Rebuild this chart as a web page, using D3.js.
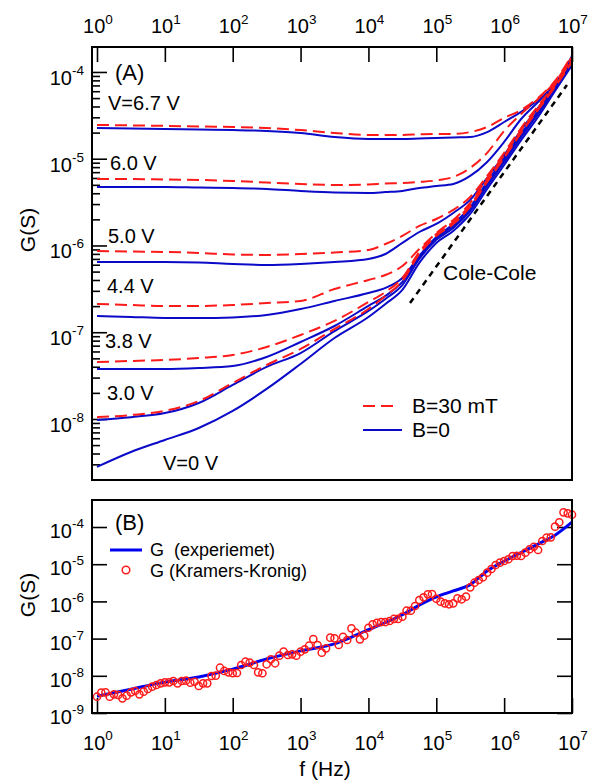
<!DOCTYPE html>
<html>
<head>
<meta charset="utf-8">
<script src="https://cdn.jsdelivr.net/npm/d3@7"></script>
<style>
body { margin: 0; background: #fff; }
text { font-family: "Liberation Sans", Arial, Helvetica, sans-serif; fill: #000; }
</style>
</head>
<body>
<svg id="chart" width="600" height="782"></svg>
<script>
// ---- data, panel A : G(f) for each bias, B=0 (solid) and B=30 mT (dashed)
var fA = [1, 3.16, 10, 31.6, 100, 316, 1e3, 3.16e3, 1e4, 1.78e4, 3.16e4, 5.62e4,
  1e5, 1.78e5, 3.16e5, 5.62e5, 1e6, 1.78e6, 3.16e6, 5.62e6, 1e7];

var g0_67 = [2.26e-5,2.23e-5,2.2e-5,2.17e-5,2.14e-5,2.09e-5,1.98e-5,1.78e-5,1.69e-5,1.69e-5,1.69e-5,1.71e-5,1.73e-5,1.76e-5,1.78e-5,2.03e-5,2.65e-5,3.46e-5,4.76e-5,7.08e-5,1.53e-4];
var g30_67 = [2.45e-5,2.42e-5,2.39e-5,2.35e-5,2.32e-5,2.26e-5,2.14e-5,1.98e-5,1.88e-5,1.88e-5,1.88e-5,1.91e-5,1.93e-5,1.93e-5,2.03e-5,2.32e-5,2.95e-5,3.65e-5,5.02e-5,7.88e-5,1.57e-4];
var g0_60 = [4.73e-6,4.73e-6,4.73e-6,4.66e-6,4.6e-6,4.48e-6,4.25e-6,4.08e-6,4.03e-6,4.13e-6,4.25e-6,4.6e-6,4.85e-6,5.12e-6,6.33e-6,9.17e-6,1.56e-5,2.87e-5,4.51e-5,7.27e-5,1.37e-4];
var g30_60 = [5.84e-6,5.84e-6,5.76e-6,5.69e-6,5.54e-6,5.32e-6,5.12e-6,4.98e-6,5.05e-6,5.19e-6,5.25e-6,5.4e-6,5.62e-6,6.16e-6,7.83e-6,1.17e-5,2.09e-5,3.28e-5,4.88e-5,7.67e-5,1.49e-4];
var g0_50 = [6.45e-7,6.45e-7,6.45e-7,6.37e-7,6.12e-7,5.96e-7,6.12e-7,6.45e-7,6.99e-7,7.98e-7,1.07e-6,1.43e-6,1.77e-6,2.37e-6,3.35e-6,6e-6,1.1e-5,2.14e-5,3.85e-5,6.9e-5,1.37e-4];
var g30_50 = [8.64e-7,8.53e-7,8.42e-7,8.2e-7,7.88e-7,7.78e-7,7.98e-7,8.31e-7,8.87e-7,1.04e-6,1.29e-6,1.68e-6,2.02e-6,2.57e-6,3.62e-6,6.33e-6,1.17e-5,2.26e-5,4.06e-5,7.27e-5,1.45e-4];
var g0_44 = [1.54e-7,1.5e-7,1.46e-7,1.46e-7,1.48e-7,1.58e-7,1.85e-7,2.29e-7,2.83e-7,3.24e-7,4.22e-7,7.57e-7,1.25e-6,1.77e-6,2.78e-6,5.4e-6,1.02e-5,1.93e-5,3.55e-5,6.72e-5,1.3e-4];
var g30_44 = [2.12e-7,2.06e-7,2.01e-7,2.01e-7,2.06e-7,2.17e-7,2.29e-7,3.15e-7,4e-7,4.57e-7,5.8e-7,9.11e-7,1.39e-6,1.97e-6,3.09e-6,6e-6,1.1e-5,2.14e-5,3.85e-5,7.08e-5,1.37e-4];
var g0_38 = [3.77e-8,3.77e-8,3.77e-8,3.87e-8,4.08e-8,5.19e-8,7.72e-8,1.18e-7,2.01e-7,2.62e-7,3.8e-7,7.37e-7,1.22e-6,1.68e-6,2.63e-6,5.12e-6,9.67e-6,1.88e-5,3.46e-5,6.54e-5,1.27e-4];
var g30_38 = [4.54e-8,4.66e-8,4.79e-8,5.05e-8,5.47e-8,6.76e-8,9.3e-8,1.35e-7,2.23e-7,2.91e-7,4.22e-7,8.42e-7,1.36e-6,1.87e-6,2.93e-6,5.69e-6,1.05e-5,2.03e-5,3.75e-5,6.9e-5,1.34e-4];
var g0_30 = [9.74e-9,1.05e-8,1.17e-8,1.53e-8,2.47e-8,3.98e-8,5.76e-8,1.03e-7,1.76e-7,2.42e-7,3.5e-7,6.99e-7,1.16e-6,1.59e-6,2.5e-6,4.85e-6,9.17e-6,1.78e-5,3.28e-5,6.37e-5,1.24e-4];
var g30_30 = [1.05e-8,1.11e-8,1.24e-8,1.61e-8,2.6e-8,4.19e-8,6.41e-8,1.09e-7,1.85e-7,2.62e-7,3.9e-7,7.98e-7,1.29e-6,1.77e-6,2.78e-6,5.4e-6,1.02e-5,1.98e-5,3.65e-5,6.72e-5,1.3e-4];
var g0_00 = [2.8e-9,4.16e-9,5.73e-9,7.88e-9,1.24e-8,2.22e-8,4.31e-8,8.58e-8,1.5e-7,2.12e-7,3.07e-7,6.29e-7,1.07e-6,1.47e-6,2.31e-6,4.48e-6,8.47e-6,1.64e-5,3.03e-5,6.04e-5,1.2e-4];

var curvesB0 = [g0_67, g0_60, g0_50, g0_44, g0_38, g0_30, g0_00];
var curvesB30 = [g30_67, g30_60, g30_50, g30_44, g30_38, g30_30];

var voltLabels = ["V=6.7 V", "6.0 V", "5.0 V", "4.4 V", "3.8 V", "3.0 V", "V=0 V"];

// Cole-Cole guide line
var coleF = [4.1e4, 8.43e6];
var coleG = [2.17e-7, 7.08e-5];

// ---- data, panel B
var expF = [1, 3.16, 10, 31.6, 100, 316, 1e3, 3.16e3, 1e4, 3.16e4, 5.62e4, 1e5,
  1.78e5, 3.16e5, 5.62e5, 1e6, 3.16e6, 5.62e6, 1e7];
var expG = [2.82e-9, 4.37e-9, 6.76e-9, 9.33e-9, 1.51e-8, 2.82e-8, 4.68e-8, 7.2e-8, 1.74e-7,
  4.37e-7, 7.94e-7, 1.32e-6, 1.91e-6, 2.82e-6, 6.61e-6, 1.2e-5, 3.47e-5, 6.03e-5, 1.35e-4];

// Kramers-Kronig points, sweep of 16 points per decade from 1 Hz
var kkG = [2.74e-9,3.52e-9,3.6e-9,2.74e-9,3.18e-9,3.05e-9,2.48e-9,2.92e-9,3.6e-9,3.9e-9,
  3.18e-9,3.74e-9,4.42e-9,5.09e-9,5.66e-9,6.28e-9,6.68e-9,6.68e-9,7.24e-9,6.28e-9,
  7.24e-9,7.38e-9,6.52e-9,6.93e-9,5.32e-9,6.28e-9,6.28e-9,9.89e-9,1.01e-8,1.65e-8,
  1.35e-8,1.24e-8,1.17e-8,1.19e-8,1.95e-8,2.39e-8,2.25e-8,1.95e-8,1.24e-8,1.17e-8,
  2.04e-8,2.78e-8,2.17e-8,3.47e-8,4.45e-8,3.62e-8,3.78e-8,3.47e-8,4.45e-8,5.15e-8,
  6.44e-8,9.75e-8,6.73e-8,4.18e-8,5.48e-8,1.06e-7,1.02e-7,6.73e-8,1.12e-7,9.16e-8,
  1.89e-7,1.44e-7,9.57e-8,1.2e-7,1.96e-7,2.42e-7,2.67e-7,2.79e-7,2.79e-7,2.97e-7,
  3.37e-7,3.37e-7,3.88e-7,5.62e-7,5.62e-7,7.52e-7,1.09e-6,1.29e-6,1.55e-6,1.58e-6,
  1.18e-6,9.82e-7,8.89e-7,8.36e-7,8.89e-7,1.21e-6,1.14e-6,1.34e-6,2.39e-6,3.18e-6,
  3.76e-6,4.45e-6,5.92e-6,7.43e-6,9.51e-6,1.1e-5,1.22e-5,1.36e-5,1.66e-5,1.69e-5,
  1.66e-5,2.04e-5,2.52e-5,2.95e-5,2.41e-5,4.21e-5,5.15e-5,5.28e-5,1.02e-4,1.34e-4,
  2.48e-4,2.33e-4,2.14e-4];
var kkF = d3.range(kkG.length).map(function (i) { return Math.pow(10, i / 16); });

var decF = [1, 10, 100, 1e3, 1e4, 1e5, 1e6, 1e7];
var decA = [1e-8, 1e-7, 1e-6, 1e-5, 1e-4];
var decB = [1e-9, 1e-8, 1e-7, 1e-6, 1e-5, 1e-4];

// ---- drawing
var svg = d3.select('#chart');
svg.append('rect').attr('width', 600).attr('height', 782).attr('fill', '#fff');

var L = 92, R = 572;
var xA = d3.scaleLog().domain([0.844, 1e7]).range([L, R]);
var yA = d3.scaleLog().domain([1.98e-9, 1.94e-4]).range([480, 47]);
var xB = d3.scaleLog().domain([0.844, 1e7]).range([L, R]);
var yB = d3.scaleLog().domain([1e-9, 5.32e-4]).range([713, 500]);

var blue = '#0a0ac8', red = '#ff1a1a';

function expo(f) { return String(Math.round(Math.log10(f))); }

function powLabel(x, y, e, anchor, up) {
  var t = svg.append('text').attr('x', x).attr('y', y)
    .attr('text-anchor', anchor).style('font-size', '20px');
  t.append('tspan').text('10');
  t.append('tspan').attr('dy', -up).style('font-size', '13.5px').text(e);
}

function styleAxis(g) {
  g.select('.domain').remove();
  g.selectAll('.tick line').attr('stroke', '#000').attr('stroke-width', 1.6);
}

// clip regions
svg.append('clipPath').attr('id', 'clipA').append('rect')
  .attr('x', L).attr('y', 47).attr('width', R - L).attr('height', 433);
svg.append('clipPath').attr('id', 'clipB').append('rect')
  .attr('x', L - 6).attr('y', 500).attr('width', R - L + 12).attr('height', 213);

// ===== panel A =====
var minorA = yA.ticks().filter(function (v) { return decA.indexOf(v) < 0; });
svg.append('g').attr('transform', 'translate(0,47)')
  .call(d3.axisBottom(xA).tickValues(decF).tickSize(15).tickFormat('')).call(styleAxis);
svg.append('g').attr('transform', 'translate(' + L + ',0)')
  .call(d3.axisRight(yA).tickValues(decA).tickSize(15).tickFormat('')).call(styleAxis);
svg.append('g').attr('transform', 'translate(' + L + ',0)')
  .call(d3.axisRight(yA).tickValues(minorA).tickSize(8).tickFormat('')).call(styleAxis);

decF.forEach(function (f) { powLabel(xA(f) + 1, 33, expo(f), 'middle', 9); });
decA.forEach(function (g) { powLabel(84, yA(g) + 13, expo(g), 'end', 10); });

var lineA = d3.line().x(function (d) { return xA(d[0]); }).y(function (d) { return yA(d[1]); })
  .curve(d3.curveMonotoneX);
var plotA = svg.append('g').attr('clip-path', 'url(#clipA)');

curvesB0.forEach(function (s) {
  plotA.append('path').attr('d', lineA(d3.zip(fA, s)))
    .attr('fill', 'none').attr('stroke', blue).attr('stroke-width', 2);
});
curvesB30.forEach(function (s) {
  plotA.append('path').attr('d', lineA(d3.zip(fA, s)))
    .attr('fill', 'none').attr('stroke', red).attr('stroke-width', 2)
    .attr('stroke-dasharray', '12,6');
});
plotA.append('path').attr('d', lineA(d3.zip(coleF, coleG)))
  .attr('fill', 'none').attr('stroke', '#000').attr('stroke-width', 2.5)
  .attr('stroke-dasharray', '6,5');

svg.append('rect').attr('x', L).attr('y', 47).attr('width', R - L).attr('height', 433)
  .attr('fill', 'none').attr('stroke', '#000').attr('stroke-width', 2);

// annotations A
var voltPos = [[108, 110], [110, 170], [108, 243], [107, 293], [105, 348], [107, 400], [163, 470]];
voltLabels.forEach(function (s, i) {
  svg.append('text').attr('x', voltPos[i][0]).attr('y', voltPos[i][1])
    .style('font-size', '20px').text(s);
});
svg.append('text').attr('x', 115).attr('y', 80).style('font-size', '22px').text('(A)');
svg.append('text').attr('x', 443).attr('y', 280).style('font-size', '21px').text('Cole-Cole');

svg.append('line').attr('x1', 363).attr('x2', 393).attr('y1', 406).attr('y2', 406)
  .attr('stroke', red).attr('stroke-width', 2).attr('stroke-dasharray', '12,6');
svg.append('text').attr('x', 412).attr('y', 413).style('font-size', '21px').text('B=30 mT');
svg.append('line').attr('x1', 363).attr('x2', 402).attr('y1', 430).attr('y2', 430)
  .attr('stroke', blue).attr('stroke-width', 2);
svg.append('text').attr('x', 412).attr('y', 437).style('font-size', '21px').text('B=0');

svg.append('text').attr('transform', 'translate(35,230) rotate(-90)')
  .attr('text-anchor', 'middle').style('font-size', '21px').text('G(S)');

// ===== panel B =====
svg.append('g').attr('transform', 'translate(' + L + ',0)')
  .call(d3.axisRight(yB).tickValues(decB).tickSize(15).tickFormat('')).call(styleAxis);
svg.append('g').attr('transform', 'translate(' + R + ',0)')
  .call(d3.axisLeft(yB).tickValues(decB).tickSize(15).tickFormat('')).call(styleAxis);
svg.append('g').attr('transform', 'translate(0,713)')
  .call(d3.axisTop(xB).tickValues(decF).tickSize(15).tickFormat('')).call(styleAxis);

decB.forEach(function (g) { powLabel(84, yB(g) + 11, expo(g), 'end', 10); });
decF.forEach(function (f) { powLabel(xB(f) + 1, 750, expo(f), 'middle', 10); });

var lineB = d3.line().x(function (d) { return xB(d[0]); }).y(function (d) { return yB(d[1]); })
  .curve(d3.curveMonotoneX);
var plotB = svg.append('g').attr('clip-path', 'url(#clipB)');
plotB.append('path').attr('d', lineB(d3.zip(expF, expG)))
  .attr('fill', 'none').attr('stroke', '#0000f0').attr('stroke-width', 3);
plotB.selectAll('circle').data(d3.zip(kkF, kkG)).enter().append('circle')
  .attr('cx', function (d) { return xB(d[0]); })
  .attr('cy', function (d) { return yB(d[1]); })
  .attr('r', 3.6).attr('fill', 'none').attr('stroke', red).attr('stroke-width', 1.5);

svg.append('rect').attr('x', L).attr('y', 500).attr('width', R - L).attr('height', 213)
  .attr('fill', 'none').attr('stroke', '#000').attr('stroke-width', 2);

svg.append('text').attr('x', 115).attr('y', 530).style('font-size', '22px').text('(B)');
svg.append('line').attr('x1', 110).attr('x2', 142).attr('y1', 550).attr('y2', 550)
  .attr('stroke', '#0000f0').attr('stroke-width', 3);
svg.append('text').attr('x', 150).attr('y', 556).style('font-size', '18px')
  .style('white-space', 'pre').text('G  (experiemet)');
svg.append('circle').attr('cx', 126).attr('cy', 570).attr('r', 3.8)
  .attr('fill', 'none').attr('stroke', red).attr('stroke-width', 1.5);
svg.append('text').attr('x', 150).attr('y', 577).style('font-size', '18px')
  .text('G (Kramers-Kronig)');

svg.append('text').attr('transform', 'translate(35,595) rotate(-90)')
  .attr('text-anchor', 'middle').style('font-size', '21px').text('G(S)');
svg.append('text').attr('x', 325).attr('y', 776).attr('text-anchor', 'middle')
  .style('font-size', '21px').text('f (Hz)');
</script>
</body>
</html>
